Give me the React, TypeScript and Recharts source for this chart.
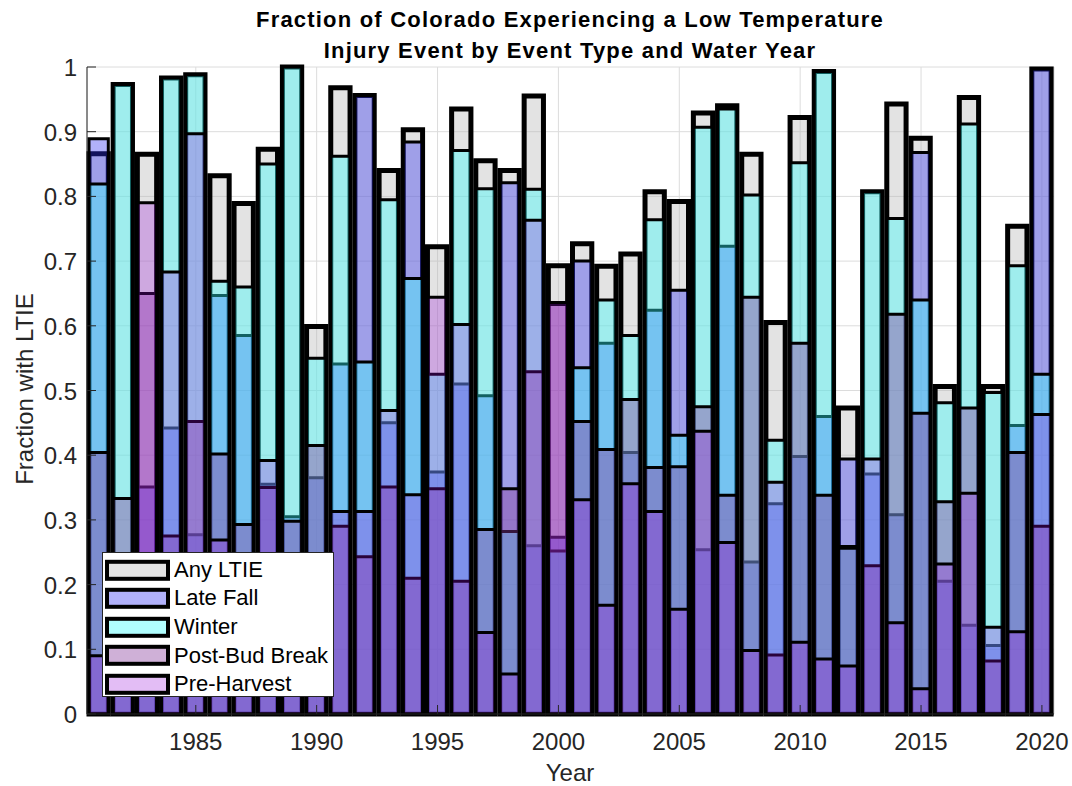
import React from 'react';
import { ComposedChart, Bar, XAxis, YAxis, CartesianGrid, Legend } from 'recharts';

const years = [
  1981, 1982, 1983, 1984, 1985, 1986, 1987, 1988, 1989, 1990,
  1991, 1992, 1993, 1994, 1995, 1996, 1997, 1998, 1999, 2000,
  2001, 2002, 2003, 2004, 2005, 2006, 2007, 2008, 2009, 2010,
  2011, 2012, 2013, 2014, 2015, 2016, 2017, 2018, 2019, 2020,
];

const anyLTIE = [
  0.866, 0.973, 0.865, 0.983, 0.988, 0.832, 0.789, 0.873, 1.0, 0.599,
  0.968, 0.956, 0.84, 0.903, 0.722, 0.935, 0.855, 0.84, 0.955, 0.693,
  0.727, 0.692, 0.711, 0.807, 0.792, 0.929, 0.94, 0.865, 0.605, 0.922,
  0.993, 0.473, 0.807, 0.943, 0.89, 0.506, 0.953, 0.506, 0.754, 0.997,
];

const lateFall = [
  0.889, 0.2, 0.351, 0.442, 0.277, 0.647, 0.585, 0.355, 0.305, 0.365,
  0.541, 0.956, 0.45, 0.884, 0.374, 0.51, 0.492, 0.821, 0.26, 0.273,
  0.7, 0.573, 0.404, 0.624, 0.655, 0.254, 0.723, 0.235, 0.325, 0.398,
  0.46, 0.394, 0.371, 0.308, 0.868, 0.205, 0.137, 0.106, 0.446, 0.997,
];

const winter = [
  0.819, 0.973, 0.15, 0.983, 0.988, 0.669, 0.66, 0.85, 1.0, 0.55,
  0.862, 0.544, 0.795, 0.673, 0.525, 0.871, 0.812, 0.282, 0.811, 0.252,
  0.535, 0.64, 0.585, 0.764, 0.431, 0.907, 0.935, 0.802, 0.423, 0.852,
  0.993, 0.259, 0.807, 0.766, 0.64, 0.481, 0.912, 0.497, 0.693, 0.525,
];

const postBudBreak = [
  0.404, 0.333, 0.65, 0.275, 0.452, 0.402, 0.293, 0.35, 0.298, 0.415,
  0.29, 0.243, 0.351, 0.21, 0.348, 0.205, 0.285, 0.348, 0.529, 0.633,
  0.452, 0.409, 0.486, 0.381, 0.382, 0.475, 0.338, 0.644, 0.091, 0.573,
  0.338, 0.256, 0.229, 0.618, 0.465, 0.328, 0.473, 0.082, 0.404, 0.29,
];

const preHarvest = [
  0.09, 0.12, 0.79, 0.683, 0.897, 0.269, 0.15, 0.392, 0.15, 0.2,
  0.313, 0.313, 0.469, 0.339, 0.644, 0.602, 0.126, 0.062, 0.763, 0.636,
  0.331, 0.168, 0.356, 0.313, 0.162, 0.437, 0.265, 0.098, 0.358, 0.111,
  0.085, 0.074, 0.394, 0.141, 0.039, 0.232, 0.341, 0.134, 0.127, 0.463,
];

const xTicks = [1985, 1990, 1995, 2000, 2005, 2010, 2015, 2020];
const yTicks = [0, 0.1, 0.2, 0.3, 0.4, 0.5, 0.6, 0.7, 0.8, 0.9, 1];
const xDomain = [1980.5, 2020.5];
const yDomain = [0, 1];

const FONT = '"Liberation Sans", Arial, Helvetica, sans-serif';
const AXIS = '#262626';

const SERIES = [
  { key: 'any', name: 'Any LTIE', fill: '#b5b5b5', opacity: 0.38, strokeWidth: 5 },
  { key: 'lateFall', name: 'Late Fall', fill: '#3333f2', opacity: 0.38, strokeWidth: 3 },
  { key: 'winter', name: 'Winter', fill: '#33ffff', opacity: 0.38, strokeWidth: 3 },
  { key: 'postBud', name: 'Post-Bud Break', fill: '#873a9a', opacity: 0.4, strokeWidth: 3 },
  { key: 'preHarvest', name: 'Pre-Harvest', fill: '#960ad9', opacity: 0.27, strokeWidth: 3 },
];

const data = years.map((year, i) => ({
  year,
  any: anyLTIE[i],
  lateFall: lateFall[i],
  winter: winter[i],
  postBud: postBudBreak[i],
  preHarvest: preHarvest[i],
}));

const BottomTick = (p: any) => (
  <g>
    <line x1={p.x} x2={p.x} y1={p.y} y2={p.y - 9} stroke={AXIS} strokeWidth={1} />
    <text x={p.x} y={p.y + 35.5} textAnchor="middle" fontSize={24} fill={AXIS} fontFamily={FONT}>
      {p.payload.value}
    </text>
  </g>
);

const TopTick = (p: any) => (
  <line x1={p.x} x2={p.x} y1={p.y} y2={p.y + 9} stroke={AXIS} strokeWidth={1} />
);

const LeftTick = (p: any) => (
  <g>
    <line x1={p.x} x2={p.x + 9} y1={p.y} y2={p.y} stroke={AXIS} strokeWidth={1} />
    <text x={p.x - 10} y={p.y + 9} textAnchor="end" fontSize={24} fill={AXIS} fontFamily={FONT}>
      {String(p.payload.value)}
    </text>
  </g>
);

const RightTick = (p: any) => (
  <line x1={p.x} x2={p.x - 9} y1={p.y} y2={p.y} stroke={AXIS} strokeWidth={1} />
);

const renderLegend = () => (
  <div
    style={{
      background: '#fff',
      border: '1px solid #262626',
      boxSizing: 'border-box',
      width: 232,
      height: 145,
      paddingTop: 2.5,
      fontFamily: FONT,
    }}
  >
    {SERIES.map((s) => (
      <div key={s.key} style={{ display: 'flex', alignItems: 'center', height: 28.6 }}>
        <svg width={71} height={28.6} style={{ display: 'block', flex: 'none' }}>
          <rect x={4} y={5.8} width={61} height={17} fill="#fff" />
          <rect x={4} y={5.8} width={61} height={17} fill={s.fill} fillOpacity={s.opacity} stroke="#000" strokeWidth={4} />
        </svg>
        <span style={{ fontSize: 22, lineHeight: '28px', color: '#000', whiteSpace: 'nowrap' }}>{s.name}</span>
      </div>
    ))}
  </div>
);

export default function App() {
  return (
    <div style={{ position: 'absolute', left: 0, top: 0, width: 1072, height: 786, background: '#fff', fontFamily: FONT }}>
      <div
        style={{
          position: 'absolute', left: 70, top: 3.6, width: 1000, textAlign: 'center',
          fontWeight: 'bold', fontSize: 22, lineHeight: '31px', letterSpacing: 1.2, color: '#000', whiteSpace: 'nowrap',
        }}
      >
        Fraction of Colorado Experiencing a Low Temperature
        <br />
        Injury Event by Event Type and Water Year
      </div>
      <div
        style={{
          position: 'absolute', left: 470, width: 200, top: 760.7, textAlign: 'center',
          fontSize: 24, lineHeight: '24px', color: AXIS,
        }}
      >
        Year
      </div>
      <div
        style={{
          position: 'absolute', left: 25 - 140, top: 389 - 12, width: 280, height: 24, lineHeight: '24px',
          textAlign: 'center', fontSize: 24, color: AXIS, transform: 'rotate(-90deg)', whiteSpace: 'nowrap',
        }}
      >
        Fraction with LTIE
      </div>
      <ComposedChart
        width={1072}
        height={786}
        data={data}
        margin={{ top: 67, right: 18, bottom: 32, left: 27 }}
        style={{ position: 'absolute', left: 0, top: 0 }}
      >
        <CartesianGrid xAxisId="x0" yAxisId="y0" stroke="#dcdcdc" strokeWidth={1} />
        {SERIES.map((s, i) => (
          <Bar
            key={s.key}
            dataKey={s.key}
            name={s.name}
            xAxisId={`x${i}`}
            yAxisId="y0"
            barSize={19.3}
            fill={s.fill}
            fillOpacity={s.opacity}
            stroke="#000"
            strokeWidth={s.strokeWidth}
            isAnimationActive={false}
          />
        ))}
        <XAxis
          xAxisId="x0" dataKey="year" type="number" domain={xDomain} ticks={xTicks} interval={0}
          height={40} tickSize={0} tickMargin={0} tick={<BottomTick />} axisLine={{ stroke: AXIS }} tickLine={false}
        />
        {[1, 2, 3, 4].map((i) => (
          <XAxis key={i} xAxisId={`x${i}`} dataKey="year" type="number" domain={xDomain} hide />
        ))}
        <XAxis
          xAxisId="top" orientation="top" dataKey="year" type="number" domain={xDomain} ticks={xTicks} interval={0}
          height={0} tickSize={0} tickMargin={0} tick={<TopTick />} axisLine={{ stroke: AXIS }} tickLine={false}
        />
        <YAxis
          yAxisId="y0" type="number" domain={yDomain} ticks={yTicks} interval={0} width={60}
          tickSize={0} tickMargin={0} tick={<LeftTick />} axisLine={{ stroke: AXIS }} tickLine={false}
        />
        <YAxis
          yAxisId="right" orientation="right" type="number" domain={yDomain} ticks={yTicks} interval={0} width={0}
          tickSize={0} tickMargin={0} tick={<RightTick />} axisLine={{ stroke: AXIS }} tickLine={false}
        />
        <Legend
          layout="vertical"
          align="center"
          verticalAlign="middle"
          content={renderLegend}
          wrapperStyle={{ left: 102, top: 552, width: 232, height: 145 }}
        />
      </ComposedChart>
    </div>
  );
}
